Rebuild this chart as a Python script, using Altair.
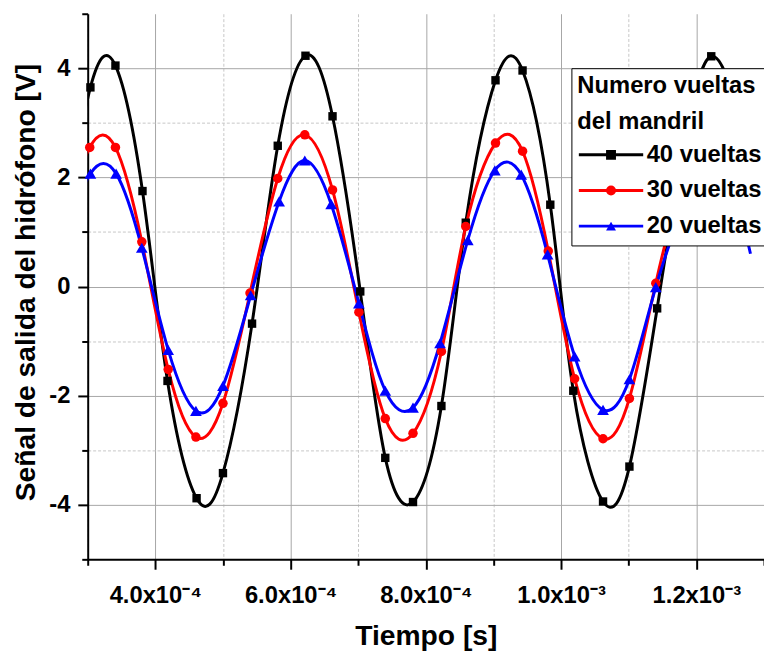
import altair as alt
import pandas as pd

FONT = "Liberation Sans"

series_names = ["40 vueltas", "30 vueltas", "20 vueltas"]
series_colors = ["#000000", "#ff0000", "#0000ff"]
series_shapes = ["square", "circle", "triangle-up"]

# Tiempo (en unidades de 1e-4 s) y señal (V)
t_40 = [3.04, 3.41, 3.81, 4.18, 4.61, 5.00, 5.43, 5.81, 6.22, 6.62, 7.03, 7.40, 7.81,
        8.23, 8.59, 9.03, 9.43, 9.84, 10.18, 10.62, 11.01, 11.42, 11.82, 12.22, 12.62]
v_40 = [3.65, 4.05, 1.75, -1.73, -3.88, -3.42, -0.68, 2.58, 4.23, 3.12, -0.09, -3.14, -3.95,
        -2.19, 1.17, 3.78, 3.96, 1.50, -1.91, -3.94, -3.30, -0.40, 2.60, 4.22, 3.10]
t_30 = [3.03, 3.41, 3.80, 4.19, 4.60, 5.00, 5.40, 5.81, 6.21, 6.62, 7.01, 7.40, 7.81,
        8.23, 8.59, 9.03, 9.43, 9.81, 10.20, 10.62, 11.01, 11.40, 11.81, 12.21, 12.62]
v_30 = [2.55, 2.55, 0.82, -1.52, -2.76, -2.14, -0.12, 1.98, 2.78, 1.77, -0.47, -2.42, -2.69,
        -1.19, 1.10, 2.63, 2.48, 0.65, -1.69, -2.79, -2.05, 0.06, 1.98, 2.78, 1.77]
t_20 = [3.04, 3.42, 3.80, 4.19, 4.60, 5.00, 5.41, 5.83, 6.21, 6.60, 7.01, 7.40, 7.81,
        8.21, 8.62, 9.02, 9.41, 9.80, 10.20, 10.62, 11.01, 11.40, 11.83, 12.21, 12.60]
v_20 = [2.07, 2.07, 0.71, -1.16, -2.28, -1.82, -0.16, 1.56, 2.31, 1.51, -0.31, -1.91, -2.22,
        -1.04, 0.85, 2.13, 2.05, 0.59, -1.28, -2.26, -1.70, -0.01, 1.56, 2.31, 1.51]

# puntos fuera de los marcadores visibles (solo línea)
edge_t = [2.64, 12.80]
edge_v_40 = [1.00, 1.55]
edge_v_30 = [1.10, 0.95]
edge_v_20 = [0.85, 0.60]

x_major = [0.0004, 0.0006, 0.0008, 0.001, 0.0012]
x_major_labels = ["4.0x10\u207b\u2074", "6.0x10\u207b\u2074", "8.0x10\u207b\u2074",
                  "1.0x10\u207b\u00b3", "1.2x10\u207b\u00b3"]
x_minor = [0.0003, 0.0005, 0.0007, 0.0009, 0.0011, 0.0013]
y_major = [-4, -2, 0, 2, 4]
y_major_labels = ["-4", "-2", "0", "2", "4"]
y_minor = [-5, -3, -1, 1, 3, 5]

rows = []
for name, ts, vs, ev in [(series_names[0], t_40, v_40, edge_v_40),
                         (series_names[1], t_30, v_30, edge_v_30),
                         (series_names[2], t_20, v_20, edge_v_20)]:
    for t, v in zip(ts, vs):
        rows.append({"t": t * 1e-4, "v": v, "serie": name, "marker": True})
    for t, v in zip(edge_t, ev):
        rows.append({"t": t * 1e-4, "v": v, "serie": name, "marker": False})
df = pd.DataFrame(rows)


def arr(vals):
    return "[" + ",".join(repr(v) for v in vals) + "]"


def sarr(vals):
    return "[" + ",".join("'" + s + "'" for s in vals) + "]"


def make_axis(major, labels, minor, title, title_size, extra):
    maj = arr(major)
    test = f"indexof({maj}, datum.value) >= 0"
    return alt.Axis(
        values=sorted(major + minor),
        labelExpr=f"{test} ? {sarr(labels)}[indexof({maj}, datum.value)] : ''",
        tickSize={"condition": {"test": test, "value": 10}, "value": 6},
        gridDash={"condition": {"test": test, "value": []}, "value": [3, 2]},
        gridColor={"condition": {"test": test, "value": "#a6a6a6"}, "value": "#c6c6c6"},
        grid=True,
        gridWidth=1,
        domainColor="#000000",
        domainWidth=2,
        tickColor="#000000",
        tickWidth=2,
        labelFont=FONT,
        labelFontSize=24,
        labelFontWeight="bold",
        labelColor="#000000",
        labelOverlap=False,
        labelFlush=False,
        labelBound=False,
        title=title,
        titleFont=FONT,
        titleFontSize=title_size,
        titleFontWeight="bold",
        titleColor="#000000",
        titleAlign="center",
        **extra,
    )


x_axis = make_axis(x_major, x_major_labels, x_minor, "Tiempo [s]", 28.5,
                   dict(labelPadding=15, titleX=341.5, titleY=63, titleBaseline="top"))
y_axis = make_axis(y_major, y_major_labels, y_minor, "Señal de salida del hidrófono [V]", 28.5,
                   dict(labelPadding=8, titleX=-47.5, titleY=271, titleAngle=270,
                        titleBaseline="bottom",
                        gridOpacity={"condition": {"test": "abs(datum.value) >= 5", "value": 0},
                                     "value": 1}))

xs = alt.Scale(domain=[0.0003, 0.0013], nice=False, zero=False)
ys = alt.Scale(domain=[-5, 5], nice=False, zero=False)
color_scale = alt.Scale(domain=series_names, range=series_colors)
shape_scale = alt.Scale(domain=series_names, range=series_shapes)

leg_common = dict(
    title=["Numero vueltas", "del mandril"],
    orient="none",
    direction="vertical",
    legendY=55,
    padding=6,
    titleFont=FONT,
    titleFontSize=24,
    titleFontWeight="bold",
    titleColor="#000000",
    titleLineHeight=36,
    titlePadding=8.5,
    titleLimit=400,
    labelFont=FONT,
    labelFontSize=24,
    labelFontWeight="bold",
    labelColor="#000000",
    labelOffset=2,
    labelLimit=400,
    clipHeight=26,
    rowPadding=10,
)

legend_lines = alt.Legend(legendX=488.5, symbolType="stroke", symbolSize=4225,
                          symbolStrokeWidth=3, fillColor="#ffffff", strokeColor="#000000",
                          **leg_common)
legend_marks = alt.Legend(legendX=510.5, symbolSize=100, symbolOpacity=1, symbolStrokeWidth=0,
                          labelOpacity=0, titleOpacity=0, **leg_common)

lines = alt.Chart(df).mark_line(interpolate="natural", strokeWidth=3, clip=True).encode(
    x=alt.X("t:Q", scale=xs, axis=x_axis),
    y=alt.Y("v:Q", scale=ys, axis=y_axis),
    color=alt.Color("serie:N", scale=color_scale, legend=legend_lines),
)

points = alt.Chart(df).transform_filter("datum.marker").transform_calculate(
    msize="datum.serie == '40 vueltas' ? 72 : (datum.serie == '30 vueltas' ? 92 : 140)"
).mark_point(filled=True, opacity=1, strokeWidth=0).encode(
    x=alt.X("t:Q", scale=xs, axis=x_axis),
    y=alt.Y("v:Q", scale=ys, axis=y_axis),
    color=alt.Color("serie:N", scale=color_scale, legend=legend_marks),
    shape=alt.Shape("serie:N", scale=shape_scale, legend=legend_marks),
    size=alt.Size("msize:Q", scale=None, legend=None),
)

chart = alt.layer(lines, points).resolve_legend(
    color="independent", shape="independent"
).properties(
    width=683,
    height=551,
    padding={"left": 80.5, "top": 2.6, "right": 0, "bottom": 91},
    autosize=alt.AutoSizeParams(type="none"),
    background="#ffffff",
).configure_view(strokeWidth=0)

chart.save("out.html", embed_options={"renderer": "svg", "actions": False})
